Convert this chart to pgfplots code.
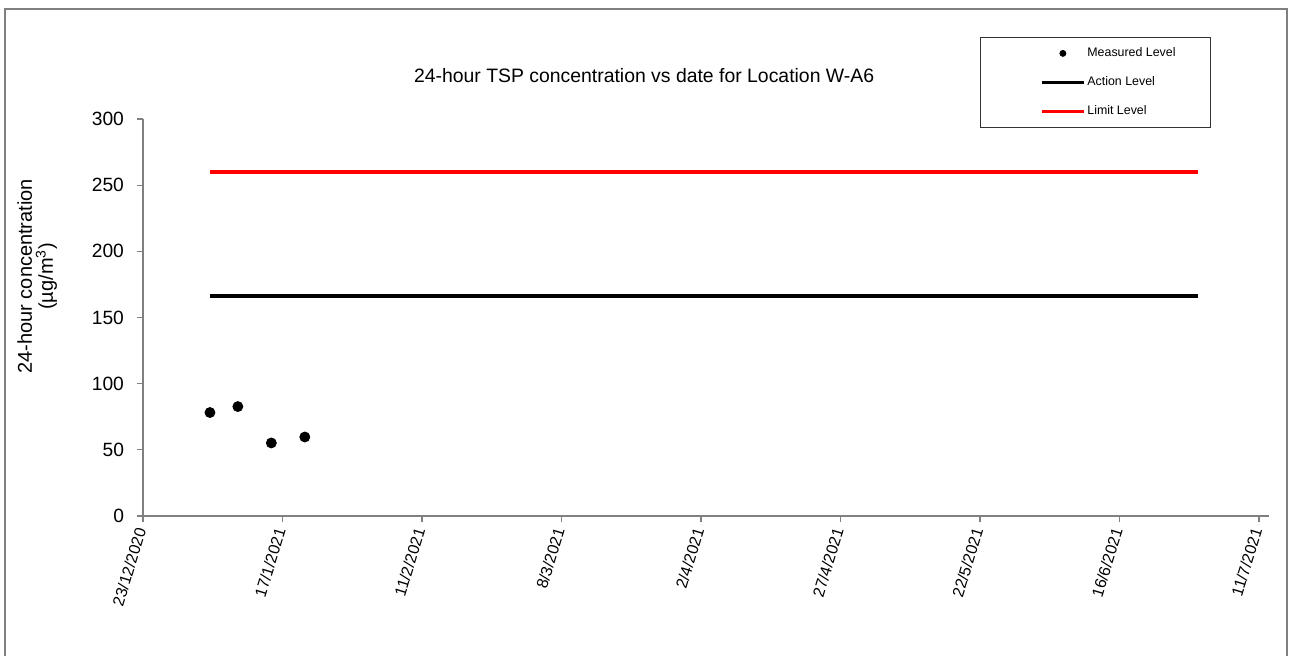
\documentclass[border=0pt]{standalone}
\usepackage{fontspec}
\setmainfont{Liberation Sans}
\usepackage{pgfplots}
\pgfplotsset{compat=1.18}

\definecolor{axisgray}{RGB}{128,128,128}
\definecolor{limitred}{RGB}{255,0,0}

\begin{document}
\begin{tikzpicture}
\begin{axis}[
  at={(71.5pt,69.5pt)}, anchor=south west,
  scale only axis, width=563pt, height=198.5pt,
  xmin=0, xmax=201.8, ymin=0, ymax=300,
  axis lines=left,
  axis line style={axisgray, line width=0.6pt, -},
  tick style={axisgray, line width=0.6pt},
  tick align=outside, major tick length=3pt,
  xtick={0,25,...,200},
  xticklabels={23/12/2020,17/1/2021,11/2/2021,8/3/2021,2/4/2021,27/4/2021,22/5/2021,16/6/2021,11/7/2021},
  xticklabel style={rotate=73, anchor=east, font=\fontsize{8}{9.5}\selectfont},
  ytick={0,50,...,300},
  yticklabel style={xshift=-3pt, font=\fontsize{9.6}{11}\selectfont},
  /pgf/number format/assume math mode=true,
  title={24-hour TSP concentration vs date for Location W-A6},
  title style={at={(axis description cs:0.445,1.078)}, anchor=center, font=\fontsize{9.7}{11}\selectfont},
  ylabel={24-hour concentration\\(µg/m\textsuperscript{3})},
  ylabel style={at={(axis description cs:-0.094,0.604)}, anchor=center, align=center, font=\fontsize{10}{10.5}\selectfont},
  legend cell align=left,
  legend image code/.code={\draw[mark repeat=2,mark phase=2,#1] plot coordinates {(0pt,0pt) (10.5pt,0pt) (21pt,0pt)};},
  legend style={at={(0.7966,1.2028)}, anchor=north west, draw=none, fill=none, inner sep=0pt,
    font=\fontsize{6.2}{7}\selectfont, row sep=0pt,
    nodes={inner sep=0pt, minimum height=14.5pt},
    /tikz/every odd column/.append style={column sep=1pt}},
]
% limit and action levels
\addplot[limitred, line width=2pt, forget plot] coordinates {(12,260) (189,260)};
\addplot[black, line width=2pt, forget plot] coordinates {(12,166) (189,166)};
% measured 24-hour TSP
\addplot[only marks, mark=*, mark size=2.5pt, black, forget plot]
  coordinates {(12,78.2) (17,82.7) (23,55.2) (29,59.7)};

\addlegendimage{only marks, mark=*, mark size=1.5pt, black}
\addlegendentry{Measured Level}
\addlegendimage{black, line width=1.5pt}
\addlegendentry{Action Level}
\addlegendimage{limitred, line width=1.5pt}
\addlegendentry{Limit Level}
\end{axis}
% legend box and outer frame
\draw[black!80, line width=0.5pt] (490pt,308.5pt) rectangle (605pt,264pt);
\draw[axisgray, line width=0.6pt] (2.5pt,323pt) rectangle (643.5pt,-3.5pt);
\pgfresetboundingbox
\useasboundingbox (0,0) rectangle (645pt,327.5pt);
\end{tikzpicture}
\end{document}
